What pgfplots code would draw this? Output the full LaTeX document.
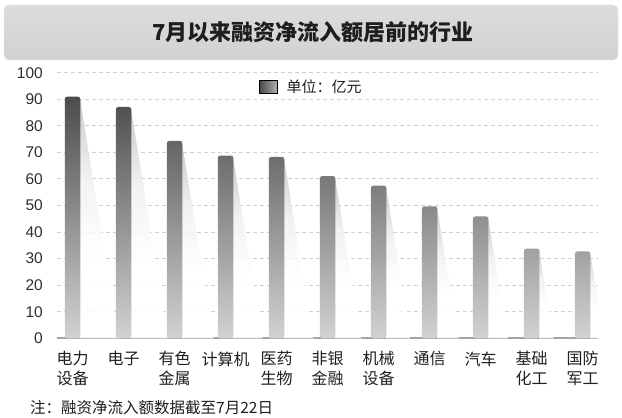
\documentclass[border=0pt]{standalone}
\usepackage{fontspec}
\setmainfont{Liberation Sans}
\newfontfamily\cjk{Noto Sans CJK SC}
\usepackage{pgfplots}
\pgfplotsset{compat=1.18}
\definecolor{barTop}{RGB}{76,76,76}
\definecolor{barBot}{RGB}{210,210,210}
\definecolor{gridc}{RGB}{208,208,208}
\definecolor{basec}{RGB}{165,165,165}
\definecolor{titlebg}{RGB}{216,216,216}
\definecolor{titleedge}{RGB}{226,226,226}
\definecolor{txt}{RGB}{30,30,30}
\definecolor{ticktxt}{RGB}{45,45,45}
\pgfdeclareverticalshading{shadowfade}{100bp}{color(0bp)=(white); color(25bp)=(white); color(42bp)=(white); color(58bp)=(black!6); color(75bp)=(black!25); color(100bp)=(black!25)}
\pgfplotsset{shadowstyle/.style={forget plot, draw=none, shading=shadowfade, fill opacity=0.85}}
\begin{document}
\begin{tikzpicture}
\path[use as bounding box] (0pt,0pt) rectangle (622pt,418pt);
\shade[rounded corners=5pt, top color=titlebg!90!white, bottom color=titlebg!97!black, draw=titleedge] (4pt,358pt) rectangle (618pt,413pt);
\node[font=\cjk\bfseries\fontsize{22}{26}\selectfont, text=txt] at (313pt,385.5pt) {7月以来融资净流入额居前的行业};
\begin{axis}[
  scale only axis, width=541pt, height=265.6pt,
  anchor=south west, at={(57pt,79.7pt)},
  xmin=-0.304, xmax=10.30, ymin=0, ymax=100,
  ytick={0,10,...,100}, xtick={0,...,10},
  xticklabels={{电力\\设备},{电子},{有色\\金属},{计算机},{医药\\生物},{非银\\金融},{机械\\设备},{通信},{汽车},{基础\\化工},{国防\\军工}},
  axis line style={draw=none},
  major tick length=0pt,
  ymajorgrids, grid style={gridc, line width=1pt, dash pattern=on 4pt off 3pt},
  extra y ticks={0}, extra y tick labels={},
  extra y tick style={grid style={basec, line width=2pt, solid}},
  /pgf/number format/assume math mode=true,
  yticklabel style={font=\fontsize{15.5}{18}\selectfont, text=ticktxt, anchor=east, inner sep=0pt, xshift=-14pt},
  xticklabel style={font=\cjk\fontsize{16}{20}\selectfont, text=txt, anchor=north, align=center, inner sep=0pt, yshift=-13pt},
  legend style={at={(0.3734,0.946)}, anchor=west, draw=none, fill=none, inner sep=0pt, column sep=9pt,
    nodes={inner sep=0pt}, font=\cjk\fontsize{15}{18}\selectfont, text=txt},
  clip=true,
]
% shadows
\addplot[shadowstyle] coordinates {(0.14,91.0) (0.907,0) (0.14,0)} -- cycle;
\addplot[shadowstyle] coordinates {(1.14,87.1) (1.875,0) (1.14,0)} -- cycle;
\addplot[shadowstyle] coordinates {(2.14,74.3) (2.769,0) (2.14,0)} -- cycle;
\addplot[shadowstyle] coordinates {(3.14,68.8) (3.723,0) (3.14,0)} -- cycle;
\addplot[shadowstyle] coordinates {(4.14,68.3) (4.719,0) (4.14,0)} -- cycle;
\addplot[shadowstyle] coordinates {(5.14,61.1) (5.659,0) (5.14,0)} -- cycle;
\addplot[shadowstyle] coordinates {(6.14,57.5) (6.629,0) (6.14,0)} -- cycle;
\addplot[shadowstyle] coordinates {(7.14,49.7) (7.565,0) (7.14,0)} -- cycle;
\addplot[shadowstyle] coordinates {(8.14,45.9) (8.533,0) (8.14,0)} -- cycle;
\addplot[shadowstyle] coordinates {(9.14,33.8) (9.433,0) (9.14,0)} -- cycle;
\addplot[shadowstyle] coordinates {(10.14,32.7) (10.423,0) (10.14,0)} -- cycle;
% bars
\addplot[forget plot, ybar, bar width=15.5pt, draw=none, top color=barTop, bottom color=barBot, rounded corners=2.5pt]
  coordinates {(0,91.0) (1,87.1) (2,74.3) (3,68.8) (4,68.3) (5,61.1) (6,57.5) (7,49.7) (8,45.9) (9,33.8) (10,32.7)};
\addlegendimage{legend image code/.code={\shade[left color=black!72, right color=black!30] (0pt,-6.5pt) rectangle (18pt,6.5pt);}}
\addlegendentry{单位：亿元}
\end{axis}
\node[anchor=west, font=\cjk\fontsize{15.5}{18}\selectfont, text=txt, inner sep=0pt] at (30pt,10pt) {注：融资净流入额数据截至7月22日};
\end{tikzpicture}
\end{document}
